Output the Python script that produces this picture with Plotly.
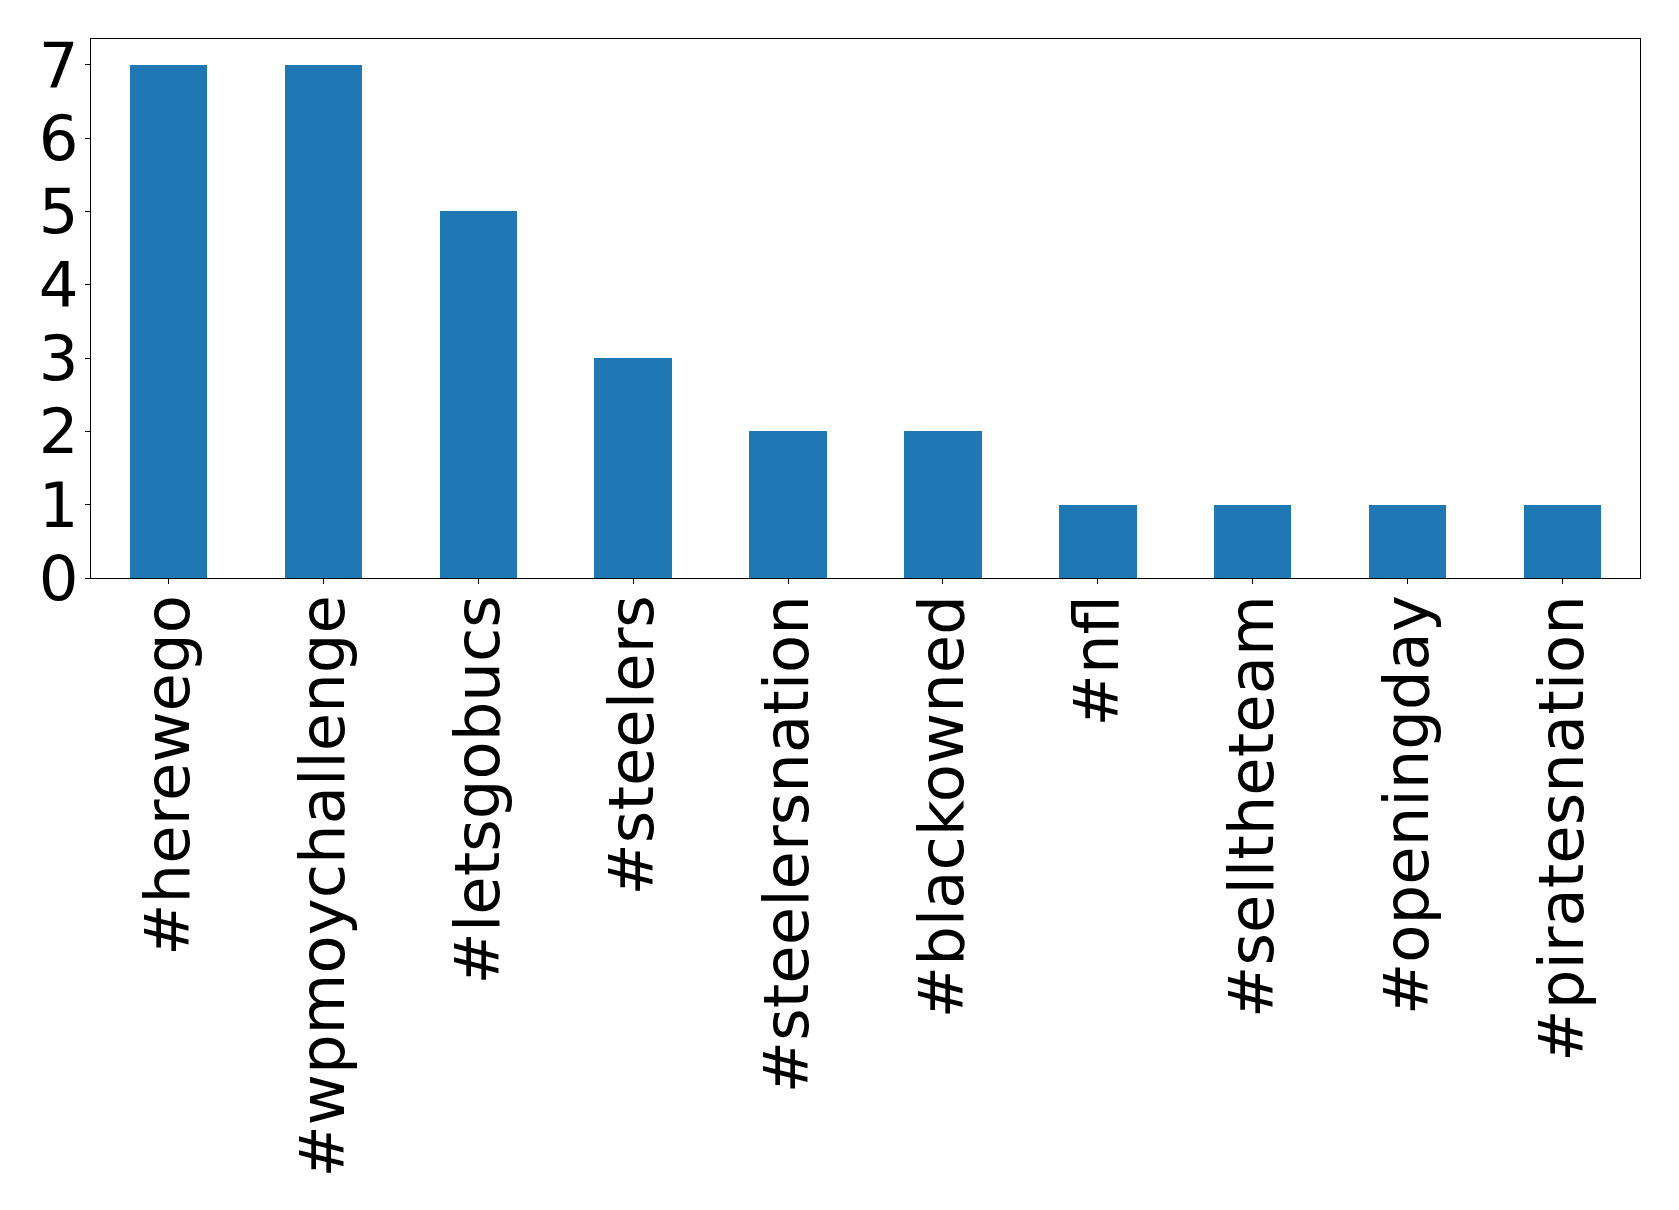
import plotly.graph_objects as go

hashtags = ["#herewego", "#wpmoychallenge", "#letsgobucs", "#steelers", "#steelersnation",
            "#blackowned", "#nfl", "#selltheteam", "#openingday", "#piratesnation"]
counts = [7, 7, 5, 3, 2, 2, 1, 1, 1, 1]

fig = go.Figure(go.Bar(x=list(range(len(hashtags))), y=counts, marker=dict(color="#1f77b4", line=dict(width=0)),
                       width=0.5))

# page body has an 8px default margin, so the figure is sized/offset to compensate
fig.update_layout(
    width=1671, height=1202,
    margin=dict(l=83, r=39, t=31, b=632, autoexpand=False),
    plot_bgcolor="white", paper_bgcolor="white",
    font=dict(family="DejaVu Sans", size=62.5, color="black"),
    showlegend=False,
    bargap=0,
)
fig.update_xaxes(range=[-0.5, 9.5], tickmode="array", tickvals=list(range(len(hashtags))), ticktext=hashtags,
                 tickangle=-90, ticks="outside", ticklen=5, tickwidth=1.2, tickcolor="black",
                 ticklabelstandoff=-14, automargin=False,
                 showline=True, linecolor="black", linewidth=1.2, mirror=True, showgrid=False, zeroline=False)
fig.update_yaxes(range=[0, 7.35], tickmode="array", tickvals=list(range(8)), ticks="outside", ticklen=5,
                 tickwidth=1.2, tickcolor="black", showline=True, linecolor="black", linewidth=1.2, mirror=True,
                 ticklabelstandoff=-6, automargin=False, showgrid=False, zeroline=False)

fig.write_html("out.html")
